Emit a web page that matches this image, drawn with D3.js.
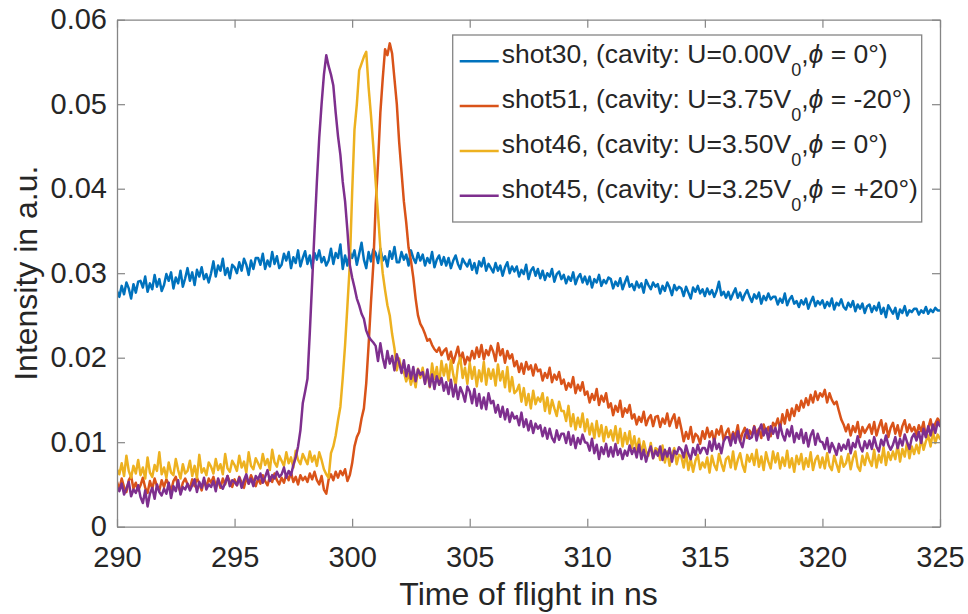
<!DOCTYPE html>
<html>
<head>
<meta charset="utf-8">
<script src="https://cdn.jsdelivr.net/npm/d3@7"></script>
<style>
  html, body { margin: 0; padding: 0; background: #fff; }
  svg { display: block; font-family: "Liberation Sans", Arial, Helvetica, sans-serif; }
</style>
</head>
<body>
<svg id="chart" width="968" height="614"></svg>
<script>
// Time-of-flight traces, sampled every 0.1 ns from 290 ns to 325 ns.
// Intensities are stored in units of 1e-4 a.u. (one row of ten samples per ns).
const tStart = 290;
const tStep = 0.1;
const intensityUnit = 1e-4;

const shot30 = [
  279,272,285,275,289,282,270,287,277,290,
  291,283,296,278,288,281,298,284,293,279,
  286,299,291,301,282,295,288,303,284,294,
  306,291,301,286,304,296,307,293,299,289,
  300,314,296,309,303,317,298,306,294,310,
  307,300,313,303,317,310,298,315,305,318,
  318,310,323,305,315,308,325,311,320,306,
  310,323,315,325,306,319,312,327,308,318,
  326,311,321,306,324,316,327,313,319,309,
  315,329,311,324,318,334,305,321,309,325,
  318,327,310,323,336,316,306,325,314,328,
  324,312,329,315,320,308,326,317,331,313,
  313,325,316,322,309,327,318,312,324,315,
  322,309,318,312,325,307,316,321,310,319,
  309,318,306,315,321,311,305,317,312,308,
  316,304,312,300,314,308,318,303,311,306,
  301,312,303,309,297,307,313,300,308,302,
  308,296,304,299,310,293,303,307,297,305,
  294,303,292,300,296,305,290,299,302,293,
  298,288,296,291,301,287,295,299,289,296,
  287,296,283,293,289,298,285,292,288,295,
  293,282,290,285,294,281,289,296,284,287,
  280,290,283,288,277,292,286,281,289,284,
  287,276,285,279,289,283,274,286,280,284,
  282,273,284,277,270,283,278,285,276,281,
  273,282,275,280,272,279,290,274,278,271,
  278,269,276,282,271,277,268,275,280,272,
  266,275,270,277,264,273,268,276,269,272,
  272,263,270,265,276,262,269,273,264,267,
  260,268,263,270,258,266,272,261,267,263,
  268,259,266,261,270,257,265,262,269,260,
  257,265,260,267,255,263,258,264,253,261,
  263,254,261,256,265,252,259,248,262,257,
  252,259,246,257,253,261,250,256,254,258,
  258,251,256,253,260,252,257,254,259,256,
  256
];

const shot51 = [
  53,44,57,47,41,55,60,45,52,43,
  49,58,46,40,54,45,57,48,43,55,
  47,56,50,42,54,59,48,41,52,57,
  50,45,56,48,58,51,43,55,47,57,
  52,59,48,55,46,57,50,60,53,47,
  56,49,59,52,46,58,51,61,54,48,
  57,51,61,54,49,59,53,63,55,50,
  58,52,62,55,64,53,59,50,61,55,
  59,53,63,56,65,55,50,60,44,39,
  56,62,55,65,58,66,61,68,54,61,
  75,95,106,112,128,140,170,215,265,310,
  380,430,490,530,565,558,572,560,530,500,
  455,420,385,360,330,315,295,270,250,240,
  235,228,220,222,215,210,207,212,203,208,
  211,198,207,194,203,213,197,206,192,201,
  196,208,199,212,201,215,198,209,203,214,
  207,196,217,203,210,194,208,199,204,190,
  196,183,193,181,195,186,191,179,192,184,
  186,173,182,176,188,171,180,174,183,169,
  174,162,170,165,177,158,168,161,171,156,
  160,147,157,150,163,144,155,148,158,141,
  146,132,143,136,149,130,140,135,144,128,
  133,121,130,124,136,120,128,132,119,130,
  131,118,128,122,134,119,127,133,117,129,
  116,101,112,104,118,100,110,107,98,113,
  104,117,106,113,100,115,109,119,102,111,
  116,103,112,107,120,101,111,117,105,114,
  108,119,110,116,105,121,112,118,107,123,
  119,128,116,133,122,138,126,140,131,144,
  137,149,141,152,144,156,147,160,150,158,
  154,162,147,158,150,145,148,137,127,121,
  113,121,108,119,112,124,106,118,111,116,
  121,110,124,108,118,126,111,122,106,117,
  123,110,120,107,119,126,112,121,113,118,
  109,120,113,124,106,117,127,111,122,128,
  124
];

const shot46 = [
  68,62,75,60,84,66,58,72,63,79,
  61,70,57,82,64,59,73,66,88,62,
  70,58,76,64,61,80,67,57,74,63,
  66,78,60,72,58,85,64,69,61,76,
  71,63,80,67,74,62,86,69,65,78,
  73,66,84,70,77,64,88,72,68,81,
  75,69,86,73,80,67,91,76,71,84,
  78,72,88,75,82,70,90,79,74,86,
  80,74,89,77,84,72,88,79,68,62,
  58,87,95,108,126,142,176,215,262,310,
  395,470,500,540,548,556,562,520,487,450,
  408,370,330,300,280,262,250,228,211,185,
  199,186,183,172,181,168,179,165,187,176,
  188,170,183,165,193,175,189,168,196,179,
  192,173,197,180,167,191,200,176,188,169,
  194,175,189,166,185,172,195,168,187,175,
  186,167,192,173,184,165,189,160,177,158,
  161,168,148,164,144,157,140,161,145,153,
  148,158,137,153,134,150,140,131,148,137,
  137,125,143,119,133,115,129,118,134,113,
  127,109,122,105,125,107,120,101,118,106,
  114,102,119,99,116,95,111,98,113,93,
  107,90,104,86,101,89,84,99,81,93,
  91,79,96,76,89,72,86,93,74,85,
  83,70,88,67,80,65,78,85,68,76,
  70,82,64,84,73,67,86,75,66,80,
  83,70,89,68,79,87,73,65,85,77,
  86,73,91,71,83,67,88,77,69,89,
  76,87,69,82,72,90,70,81,65,84,
  74,86,68,81,71,88,67,79,84,70,
  82,69,87,72,67,84,74,65,83,71,
  75,86,68,81,89,71,66,84,73,87,
  78,72,91,70,85,76,94,73,88,79,
  89,80,97,77,92,83,100,81,95,86,
  97,87,105,91,101,108,95,113,99,109,
  104
];

const shot45 = [
  47,42,51,38,45,53,36,44,40,49,
  35,28,43,24,39,46,33,50,41,37,
  45,39,52,34,48,42,55,38,47,44,
  51,43,49,56,41,53,46,58,44,50,
  47,54,42,57,49,45,52,60,48,55,
  53,49,58,46,55,62,51,57,48,60,
  56,63,52,59,67,54,61,57,65,59,
  62,70,58,66,61,73,82,95,114,146,
  160,175,230,290,350,408,460,500,535,558,
  545,535,522,490,462,440,408,385,350,310,
  295,283,270,262,252,246,232,225,221,218,
  214,196,217,200,188,208,193,202,185,204,
  194,182,197,178,191,175,189,172,186,180,
  183,169,186,166,180,163,178,168,176,161,
  171,157,174,154,168,151,165,158,148,166,
  160,146,163,143,157,140,153,139,158,146,
  149,135,144,130,142,127,139,124,135,128,
  131,120,135,118,127,114,125,111,122,116,
  120,107,117,104,116,105,100,114,103,110,
  110,99,112,97,108,93,105,98,109,100,
  99,90,104,87,97,80,94,86,98,83,
  94,83,98,85,92,80,90,84,96,86,
  93,82,97,80,91,77,88,95,81,90,
  84,95,79,91,83,93,77,90,86,94,
  91,82,96,86,80,93,85,97,87,93,
  93,86,101,90,104,92,98,87,101,106,
  106,96,110,99,113,101,94,108,115,104,
  106,118,102,114,121,108,116,103,119,110,
  117,105,121,109,102,115,107,119,100,111,
  104,115,99,111,95,108,114,97,110,101,
  100,92,105,88,99,93,85,98,90,97,
  92,103,87,99,94,107,95,89,101,93,
  102,92,106,95,89,103,96,108,97,91,
  97,106,93,104,96,109,100,92,105,110,
  102,112,99,116,106,119,108,121,111,124,
  119
];

// Legend text parts and line colours (MATLAB default colour order)
const shotNames = ["shot30", "shot51", "shot46", "shot45"];
const voltages  = ["0.00", "3.75", "3.50", "3.25"];
const phases    = ["0", "-20", "0", "+20"];
const colors    = ["#0072BD", "#D95319", "#EDB120", "#7E2F8E"];

const xTicks = [290, 295, 300, 305, 310, 315, 320, 325];
const yTicks = [0, 0.01, 0.02, 0.03, 0.04, 0.05, 0.06];
const xLabel = "Time of flight in ns";
const yLabel = "Intensity in a.u.";

// Layout
const plot = { left: 117, right: 940, top: 19.7, bottom: 526.7 };
const axisColor = "#858585";
const textColor = "#262626";
const tickFont = 29;
const labelFont = 32;
const legendFont = 26.5;
const tickLen = 8;
const traceWidth = 2.5;

const svg = d3.select("#chart");

const x = d3.scaleLinear().domain([290, 325]).range([plot.left, plot.right]);
const y = d3.scaleLinear().domain([0, 0.06]).range([plot.bottom, plot.top]);

const series = [shot30, shot51, shot46, shot45].map((vals, k) => ({
  color: colors[k],
  points: vals.map((v, i) => [tStart + i * tStep, v * intensityUnit])
}));

// Clip traces to the axes box
svg.append("defs").append("clipPath").attr("id", "plot-clip")
  .append("rect")
  .attr("x", plot.left).attr("y", plot.top)
  .attr("width", plot.right - plot.left).attr("height", plot.bottom - plot.top);

const line = d3.line().x(d => x(d[0])).y(d => y(d[1]));

svg.append("g").attr("clip-path", "url(#plot-clip)")
  .selectAll("path")
  .data(series)
  .join("path")
  .attr("d", d => line(d.points))
  .attr("fill", "none")
  .attr("stroke", d => d.color)
  .attr("stroke-width", traceWidth)
  .attr("stroke-linejoin", "round")
  .attr("stroke-linecap", "round");

// Axes: ticks point inward on all four sides
function styleAxis(g) {
  g.selectAll(".domain").attr("stroke", axisColor).attr("stroke-width", 1.3);
  g.selectAll(".tick line").attr("stroke", axisColor).attr("stroke-width", 1.2);
  g.selectAll(".tick text")
    .attr("fill", textColor)
    .attr("font-size", tickFont)
    .attr("font-family", "'Liberation Sans', Arial, Helvetica, sans-serif");
}

const yFormat = d => d === 0 ? "0" : d3.format(".2f")(d);

svg.append("g")
  .attr("transform", `translate(0,${plot.bottom})`)
  .call(d3.axisBottom(x).tickValues(xTicks).tickFormat(d3.format("d"))
    .tickSizeInner(-tickLen).tickSizeOuter(0).tickPadding(19.5))
  .call(styleAxis);

svg.append("g")
  .attr("transform", `translate(0,${plot.top})`)
  .call(d3.axisTop(x).tickValues(xTicks).tickFormat("")
    .tickSizeInner(-tickLen).tickSizeOuter(0))
  .call(styleAxis);

svg.append("g")
  .attr("transform", `translate(${plot.left},0)`)
  .call(d3.axisLeft(y).tickValues(yTicks).tickFormat(yFormat)
    .tickSizeInner(-tickLen).tickSizeOuter(0).tickPadding(10))
  .call(styleAxis);

svg.append("g")
  .attr("transform", `translate(${plot.right},0)`)
  .call(d3.axisRight(y).tickValues(yTicks).tickFormat("")
    .tickSizeInner(-tickLen).tickSizeOuter(0))
  .call(styleAxis);

// Axis titles
svg.append("text")
  .attr("x", (plot.left + plot.right) / 2)
  .attr("y", 605)
  .attr("text-anchor", "middle")
  .attr("fill", textColor)
  .attr("font-size", labelFont)
  .text(xLabel);

svg.append("text")
  .attr("transform", `translate(37,${(plot.top + plot.bottom) / 2}) rotate(-90)`)
  .attr("text-anchor", "middle")
  .attr("fill", textColor)
  .attr("font-size", labelFont)
  .text(yLabel);

// Legend
const legend = { x: 452.7, y: 35, w: 469, h: 187, firstBaseline: 63.3, rowGap: 44.8 };
const lg = svg.append("g");
lg.append("rect")
  .attr("x", legend.x).attr("y", legend.y)
  .attr("width", legend.w).attr("height", legend.h)
  .attr("fill", "#fff")
  .attr("stroke", axisColor)
  .attr("stroke-width", 1.3);

shotNames.forEach((name, k) => {
  const base = legend.firstBaseline + k * legend.rowGap;
  lg.append("line")
    .attr("x1", legend.x + 7).attr("x2", legend.x + 46)
    .attr("y1", base - 2).attr("y2", base - 2)
    .attr("stroke", colors[k]).attr("stroke-width", traceWidth);
  const t = lg.append("text")
    .attr("x", legend.x + 49)
    .attr("y", base)
    .attr("fill", textColor)
    .attr("font-size", legendFont);
  t.append("tspan").text(`${name}, (cavity: U=${voltages[k]}V`);
  t.append("tspan").attr("font-size", 18).attr("dy", 13).text("0");
  t.append("tspan").attr("dy", -13).text(",");
  t.append("tspan").attr("font-style", "italic").text("\u03D5");
  t.append("tspan").text(` = ${phases[k]}\u00B0)`);
});
</script>
</body>
</html>
